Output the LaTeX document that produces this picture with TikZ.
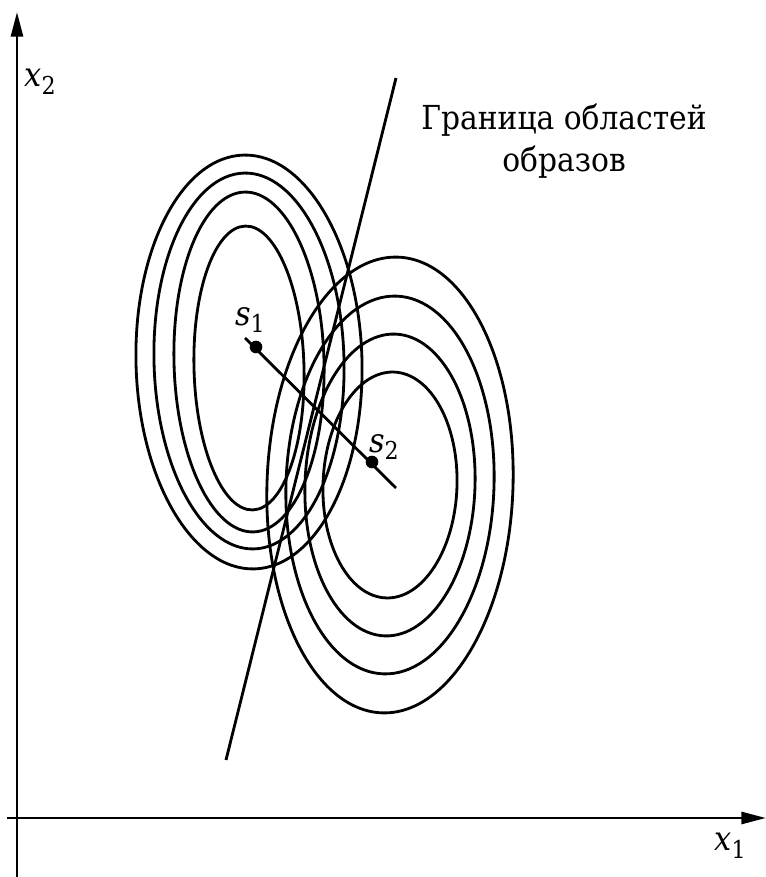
\documentclass[tikz,border=0pt]{standalone}
\usepackage{fontspec}
\IfFontExistsTF{DejaVu Serif Condensed}{%
  \newfontfamily\rmtimes{DejaVu Serif Condensed}}{%
  \newfontfamily\rmtimes{DejaVu Serif}[FakeStretch=0.9]}
\usepackage{tikz}
\usetikzlibrary{arrows.meta,positioning}
\newcommand{\ivar}[2]{{\rmtimes\itshape #1}\raisebox{-0.45ex}{\rmtimes\fontsize{7}{8}\selectfont #2}}

\begin{document}
\begin{tikzpicture}[
    axis/.style={line width=0.8pt, -{Triangle[length=7pt, width=3.4pt]}},
    contour/.style={line width=0.8pt},
    center/.style={circle, fill=black, inner sep=0pt, minimum size=3.6pt},
    lbl/.style={font=\rmtimes\fontsize{9.6}{11}\selectfont, inner sep=1pt},
    note/.style={font=\rmtimes\fontsize{9.4}{12}\selectfont, align=center, inner sep=1pt}
]
    \useasboundingbox (0,0) rectangle (7.66,8.77);

    % axes
    \coordinate (xs) at (0.07,0.59);
    \coordinate (xe) at (7.66,0.59);
    \coordinate (ys) at (0.17,0.00);
    \coordinate (ye) at (0.17,8.65);
    \draw[axis] (xs) -- (xe);
    \draw[axis] (ys) -- (ye);
    \node[lbl] (x1) at (7.30,0.31) {\ivar{x}{1}};
    \node[lbl] (x2) at (0.40,7.95) {\ivar{x}{2}};

    % class 1 contours
    \foreach \rx/\ry/\cy in {1.13/2.07/5.15, 0.95/1.88/5.16, 0.75/1.70/5.15, 0.55/1.42/5.09}
        \draw[contour, rotate around={1.5:(2.49,\cy)}] (2.49,\cy) ellipse ({\rx} and {\ry});

    % class 2 contours
    \foreach \rx/\ry in {1.23/2.28, 1.04/1.89, 0.85/1.51, 0.67/1.13}
        \draw[contour, rotate around={-2:(3.90,3.92)}] (3.90,3.92) ellipse ({\rx} and {\ry});

    % boundary
    \coordinate (b1) at (2.26,1.17);
    \coordinate (b2) at (3.96,7.99);
    \draw[contour] (b1) -- (b2);
    \node[note] (bnd) at (5.64,7.36) {Граница областей\\образов};

    % centers
    \coordinate (l1) at (2.45,5.39);
    \coordinate (l2) at (3.96,3.89);
    \draw[contour] (l1) -- (l2);
    \node[center] (s1) at (2.56,5.30) {};
    \node[center] (s2) at (3.72,4.15) {};
    \node[lbl] (s1lbl) at (2.50,5.57) {\ivar{s}{1}};
    \node[lbl] (s2lbl) at (3.84,4.30) {\ivar{s}{2}};
\end{tikzpicture}
\end{document}
